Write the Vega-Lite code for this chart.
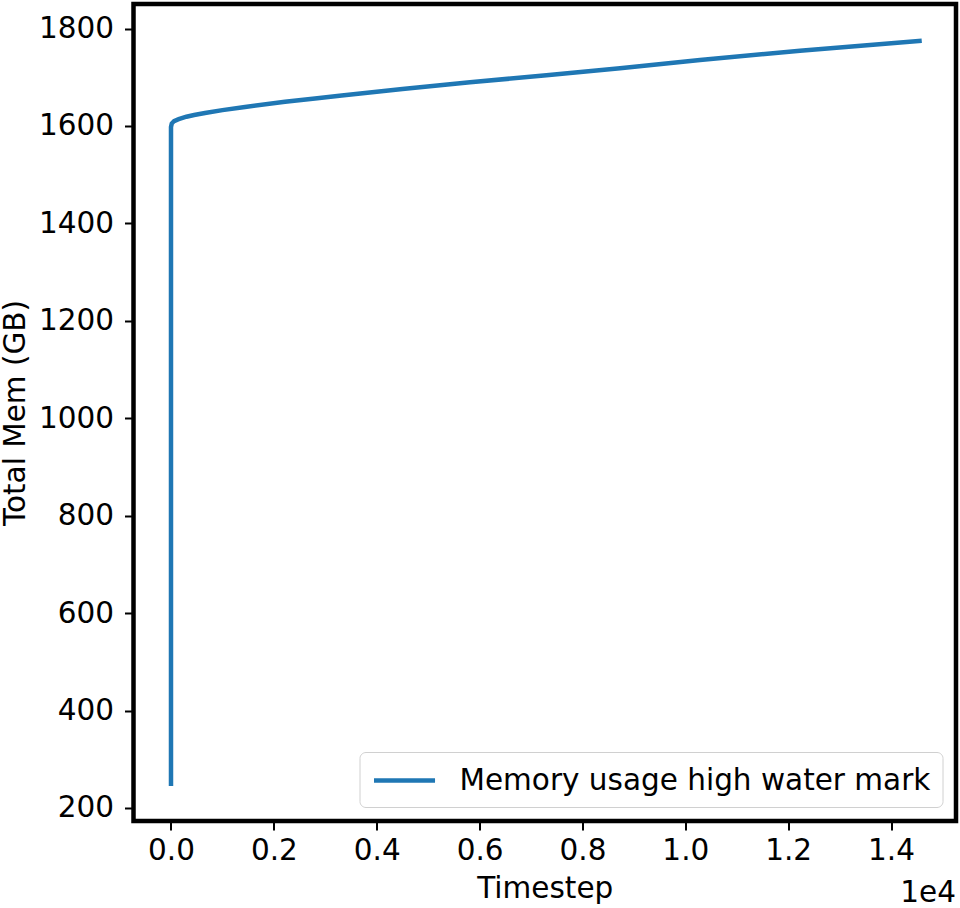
{
  "$schema": "https://vega.github.io/schema/vega-lite/v6.json",
  "autosize": "none",
  "padding": {"left": 133.5, "top": 4, "right": 4, "bottom": 87},
  "width": 822.5,
  "height": 817,
  "background": "white",
  "title": {"text": "1e4", "orient": "bottom", "anchor": "end", "font": "DejaVu Sans", "fontSize": 29.5, "fontWeight": "normal", "color": "black", "offset": -24},
  "data": {"values": [
    {"i": 0, "t": 0, "mem": 245, "series": "Memory usage high water mark"},
    {"i": 1, "t": 0, "mem": 1598, "series": "Memory usage high water mark"},
    {"i": 2, "t": 15, "mem": 1605, "series": "Memory usage high water mark"},
    {"i": 3, "t": 60, "mem": 1610, "series": "Memory usage high water mark"},
    {"i": 4, "t": 150, "mem": 1614, "series": "Memory usage high water mark"},
    {"i": 5, "t": 300, "mem": 1619, "series": "Memory usage high water mark"},
    {"i": 6, "t": 450, "mem": 1622.5, "series": "Memory usage high water mark"},
    {"i": 7, "t": 661, "mem": 1626.5, "series": "Memory usage high water mark"},
    {"i": 8, "t": 1000, "mem": 1632.5, "series": "Memory usage high water mark"},
    {"i": 9, "t": 1439, "mem": 1639, "series": "Memory usage high water mark"},
    {"i": 10, "t": 2217, "mem": 1649.5, "series": "Memory usage high water mark"},
    {"i": 11, "t": 2800, "mem": 1656.5, "series": "Memory usage high water mark"},
    {"i": 12, "t": 3319, "mem": 1662.5, "series": "Memory usage high water mark"},
    {"i": 13, "t": 4500, "mem": 1676, "series": "Memory usage high water mark"},
    {"i": 14, "t": 5814, "mem": 1689.6, "series": "Memory usage high water mark"},
    {"i": 15, "t": 7300, "mem": 1704, "series": "Memory usage high water mark"},
    {"i": 16, "t": 8730, "mem": 1718.3, "series": "Memory usage high water mark"},
    {"i": 17, "t": 10286, "mem": 1735.3, "series": "Memory usage high water mark"},
    {"i": 18, "t": 12230, "mem": 1754.4, "series": "Memory usage high water mark"},
    {"i": 19, "t": 14597, "mem": 1775, "series": "Memory usage high water mark"}
  ]},
  "mark": {"type": "line", "strokeWidth": 4.5, "clip": true},
  "encoding": {
    "x": {
      "field": "t", "type": "quantitative",
      "scale": {"domain": [-729, 15263], "nice": false, "zero": false},
      "axis": {
        "title": "Timestep",
        "values": [0, 2000, 4000, 6000, 8000, 10000, 12000, 14000],
        "labelExpr": "format(datum.value / 10000, '.1f')",
        "labelPadding": 6,
        "titlePadding": 10
      }
    },
    "y": {
      "field": "mem", "type": "quantitative",
      "scale": {"domain": [173.3, 1850.3], "nice": false, "zero": false},
      "axis": {
        "title": "Total Mem (GB)",
        "values": [200, 400, 600, 800, 1000, 1200, 1400, 1600, 1800],
        "format": "d",
        "labelPadding": 11,
        "titlePadding": 8
      }
    },
    "order": {"field": "i", "type": "quantitative"},
    "color": {
      "field": "series", "type": "nominal",
      "scale": {"domain": ["Memory usage high water mark"], "range": ["#1f77b4"]},
      "legend": {
        "title": null,
        "orient": "bottom-right",
        "offset": 14,
        "symbolType": "M-1,0H3.36",
        "symbolSize": 784,
        "symbolStrokeWidth": 4.5,
        "labelOffset": 55,
        "padding": 12,
        "cornerRadius": 6,
        "strokeColor": "#d0d0d0",
        "fillColor": "white",
        "labelFont": "DejaVu Sans",
        "labelFontSize": 29.5,
        "labelColor": "black",
        "labelLimit": 0
      }
    }
  },
  "config": {
    "view": {"stroke": "black", "strokeWidth": 4.5},
    "axis": {
      "domain": false,
      "grid": false,
      "ticks": true,
      "tickColor": "black",
      "tickSize": 9,
      "tickWidth": 2,
      "labelFont": "DejaVu Sans",
      "labelFontSize": 29.5,
      "labelColor": "black",
      "titleFont": "DejaVu Sans",
      "titleFontSize": 29.5,
      "titleFontWeight": "normal",
      "titleColor": "black"
    }
  }
}
